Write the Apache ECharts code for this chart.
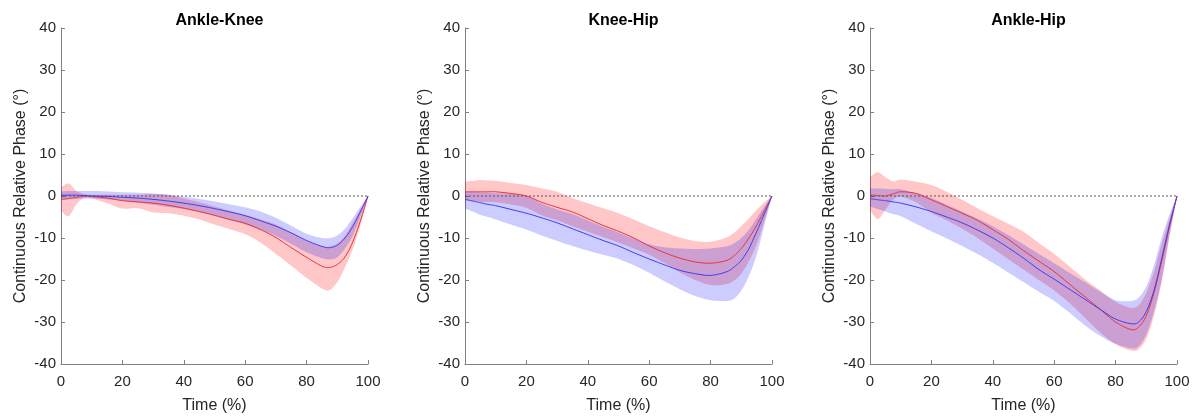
<!DOCTYPE html>
<html>
<head>
<meta charset="utf-8">
<script src="https://cdn.jsdelivr.net/npm/echarts@6/dist/echarts.min.js"></script>
<style>html,body{margin:0;padding:0;background:#fff;}#c{width:1203px;height:419px;}</style>
</head>
<body>
<div id="c"></div>
<script>
// Time points (%)
var time = [0,2.5,5,7.5,10,15,20,25,30,35,40,45,50,55,60,65,70,75,80,85,87.5,90,92.5,95,97.5,100];
var panelTitles = ['Ankle-Knee','Knee-Hip','Ankle-Hip'];
var xTicks = [0,20,40,60,80,100];
var yTicks = [-40,-30,-20,-10,0,10,20,30,40];

// Ankle-Knee
var akBlueMean  = [0.2,0.2,0.2,0.1,0,-0.1,-0.3,-0.5,-0.8,-1.2,-1.7,-2.3,-3.0,-3.8,-4.7,-5.9,-7.2,-8.8,-10.6,-12.0,-12.3,-11.7,-10.0,-7.3,-3.8,0];
var akBlueUpper = [1.1,1.2,1.2,1.2,1.2,1.1,0.9,0.8,0.6,0.3,-0.2,-0.7,-1.3,-2.0,-2.7,-3.7,-5.2,-7.1,-9.0,-10.0,-10.0,-9.4,-7.8,-5.3,-2.6,0];
var akBlueLower = [-0.8,-0.8,-0.7,-0.6,-0.6,-0.8,-1.1,-1.6,-2.1,-2.6,-3.1,-3.8,-4.7,-5.7,-6.8,-8.1,-9.5,-11.4,-13.4,-14.8,-15.1,-14.6,-12.5,-9.5,-5.0,0];
var akRedMean   = [-0.8,-0.6,-0.3,0,-0.1,-0.5,-1.1,-1.4,-1.7,-2.2,-2.9,-3.7,-4.6,-5.6,-6.5,-8.0,-9.9,-12.3,-14.6,-16.7,-17.0,-16.3,-14.5,-11.0,-6.0,0];
var akRedUpper  = [2.0,3.0,1.2,0.5,0.3,0.3,0.3,0.3,0.5,0.3,-0.6,-1.5,-2.5,-3.5,-4.5,-5.6,-6.8,-8.7,-10.7,-12.0,-12.0,-11.3,-9.5,-6.4,-3.2,0];
var akRedLower  = [-3.5,-4.8,-2.0,-0.5,-0.6,-1.7,-3.0,-2.9,-3.9,-4.1,-4.7,-5.6,-6.8,-7.9,-9.1,-11.1,-13.8,-16.6,-19.5,-22.0,-22.4,-20.5,-17.0,-12.7,-7.0,0];

// Knee-Hip
var khBlueMean  = [-0.8,-1.2,-1.6,-2.0,-2.3,-3.2,-4.1,-5.2,-6.4,-7.8,-9.2,-10.6,-11.9,-13.5,-15.0,-16.4,-17.7,-18.5,-18.9,-18.1,-17.0,-15.3,-12.5,-8.5,-4.3,0];
var khBlueUpper = [1.0,1.0,0.9,0.8,0.7,0.5,0.0,-1.8,-3.2,-4.3,-5.8,-7.3,-8.7,-10.2,-11.5,-12.2,-12.5,-12.6,-12.5,-12.0,-11.3,-10.0,-8.0,-5.3,-2.5,0];
var khBlueLower = [-3.0,-3.7,-4.5,-5.0,-5.6,-6.8,-8.0,-9.4,-10.7,-11.9,-13.0,-14.0,-15.0,-16.5,-18.3,-20.3,-22.2,-23.8,-24.8,-25.0,-24.5,-22.5,-19.0,-14.0,-7.0,0];
var khRedMean   = [1.0,1.0,1.0,1.0,1.0,0.6,0,-1.5,-2.7,-3.8,-5.4,-7.0,-8.4,-10.0,-11.9,-13.5,-14.8,-15.7,-16.0,-15.4,-14.3,-12.5,-10.0,-7.0,-3.5,0];
var khRedUpper  = [3.4,3.6,3.8,3.7,3.6,3.1,2.6,1.8,1.0,-0.5,-1.7,-2.9,-4.1,-5.6,-7.2,-8.6,-9.9,-10.7,-10.9,-9.9,-8.8,-7.2,-5.3,-3.3,-1.5,0];
var khRedLower  = [-1.0,-1.2,-1.4,-1.4,-1.5,-2.0,-2.8,-4.6,-5.8,-7.2,-8.5,-9.8,-11.1,-12.5,-14.0,-16.0,-18.2,-20.0,-21.2,-21.0,-20.2,-18.5,-15.5,-11.5,-6.0,0];

// Ankle-Hip
var ahBlueMean  = [-0.6,-0.9,-1.1,-1.4,-1.7,-2.6,-3.7,-5.0,-6.4,-8.1,-10.0,-12.3,-14.8,-17.5,-19.8,-22.2,-24.6,-27.0,-29.3,-30.4,-30.0,-27.5,-22.5,-15.0,-7.0,0];
var ahBlueUpper = [1.8,1.8,1.7,1.6,1.6,0.6,-0.5,-2.1,-3.7,-5.4,-7.2,-9.3,-11.5,-13.8,-16.0,-18.3,-20.5,-22.8,-24.8,-25.0,-24.2,-21.5,-16.5,-10.0,-4.5,0];
var ahBlueLower = [-2.5,-3.1,-3.7,-4.3,-4.8,-6.6,-8.4,-10.1,-11.9,-13.8,-15.9,-18.2,-20.5,-22.8,-25.0,-27.8,-30.8,-33.3,-35.2,-36.3,-35.8,-33.0,-27.5,-20.0,-9.5,0];
var ahRedMean   = [0.3,0.1,0,0.5,1.0,0.6,-0.9,-2.5,-4.1,-5.8,-8.0,-10.3,-13.0,-15.5,-18.0,-21.0,-24.0,-27.0,-30.0,-31.8,-31.2,-28.5,-23.0,-15.5,-7.5,0];
var ahRedUpper  = [4.5,5.7,4.5,3.5,3.9,3.4,2.6,1.0,-0.9,-2.9,-4.8,-6.6,-8.5,-11.2,-13.8,-16.8,-19.8,-22.5,-25.2,-26.6,-26.0,-23.0,-18.0,-11.5,-5.5,0];
var ahRedLower  = [-3.3,-5.5,-3.3,-0.9,-0.2,-1.5,-4.0,-5.8,-7.8,-10.0,-12.5,-15.0,-17.5,-20.0,-22.5,-25.5,-29.0,-32.5,-35.3,-36.8,-36.5,-34.0,-28.5,-20.5,-10.0,0];

var panels = [
  {title: panelTitles[0], blue: [akBlueMean, akBlueUpper, akBlueLower], red: [akRedMean, akRedUpper, akRedLower], left: 61, right: 835},
  {title: panelTitles[1], blue: [khBlueMean, khBlueUpper, khBlueLower], red: [khRedMean, khRedUpper, khRedLower], left: 465, right: 431},
  {title: panelTitles[2], blue: [ahBlueMean, ahBlueUpper, ahBlueLower], red: [ahRedMean, ahRedUpper, ahRedLower], left: 870, right: 26}
];

var chart = echarts.init(document.getElementById('c'), null, {renderer: 'canvas'});
var FONT = '"Liberation Sans", Arial, Helvetica, sans-serif';
var textColor = '#262626';
var axisColor = '#808080';

// Catmull-Rom interpolation of pixel points (rendering only)
function smoothPts(pts){
  var out = [], n = pts.length, S = 8;
  for (var i = 0; i < n - 1; i++){
    var p0 = pts[Math.max(i-1,0)], p1 = pts[i], p2 = pts[i+1], p3 = pts[Math.min(i+2,n-1)];
    for (var s = 0; s < S; s++){
      var t = s / S, t2 = t*t, t3 = t2*t;
      var f = function(a,b,c,d){ return 0.5*((2*b) + (-a+c)*t + (2*a-5*b+4*c-d)*t2 + (-a+3*b-3*c+d)*t3); };
      out.push([f(p0[0],p1[0],p2[0],p3[0]), f(p0[1],p1[1],p2[1],p3[1])]);
    }
  }
  out.push(pts[n-1]);
  return out;
}

var grids = [], xAxes = [], yAxes = [], titles = [], series = [];
panels.forEach(function(p, k){
  grids.push({left: p.left, right: p.right, top: 28, bottom: 49, containLabel: false});
  var plotW = 1203 - p.left - p.right;
  titles.push({text: p.title, left: p.left + plotW/2, top: 8, textAlign: 'center',
    textStyle: {fontFamily: FONT, fontSize: 16, fontWeight: 'bold', color: '#000'}});
  xAxes.push({type: 'value', gridIndex: k, min: 0, max: 100, interval: 20,
    name: 'Time (%)', nameLocation: 'middle', nameGap: 34,
    nameTextStyle: {fontFamily: FONT, fontSize: 16, color: textColor},
    axisLine: {show: true, onZero: false, lineStyle: {color: axisColor, width: 1}},
    axisTick: {show: true, inside: true, length: 4, lineStyle: {color: axisColor}},
    axisLabel: {fontFamily: FONT, fontSize: 15, color: textColor, margin: 10},
    splitLine: {show: false}});
  yAxes.push({type: 'value', gridIndex: k, min: -40, max: 40, interval: 10,
    name: 'Continuous Relative Phase (°)', nameLocation: 'middle', nameGap: 32, nameRotate: 90,
    nameTextStyle: {fontFamily: FONT, fontSize: 16, color: textColor},
    axisLine: {show: true, onZero: false, lineStyle: {color: axisColor, width: 1}},
    axisTick: {show: true, inside: true, length: 4, lineStyle: {color: axisColor}},
    axisLabel: {fontFamily: FONT, fontSize: 15, color: textColor, margin: 5},
    splitLine: {show: false}});

  var groups = [
    {name: 'red', d: p.red, fill: 'rgba(255,0,0,0.22)', line: '#e8303a'},
    {name: 'blue', d: p.blue, fill: 'rgba(0,0,255,0.2)', line: '#3a3af0'}
  ];
  groups.forEach(function(g){
    var up = g.d[1], lo = g.d[2];
    series.push({type: 'custom', xAxisIndex: k, yAxisIndex: k, silent: true, z: 1,
      data: time.map(function(t,i){ return [t, lo[i], up[i]]; }),
      encode: {x: 0, y: [1,2]},
      renderItem: function(params, api){
        if (params.dataIndex !== 0) return null;
        var upPts = time.map(function(t,i){ return api.coord([t, up[i]]); });
        var loPts = time.map(function(t,i){ return api.coord([t, lo[i]]); });
        var poly = smoothPts(upPts).concat(smoothPts(loPts).reverse());
        return {type: 'polygon', shape: {points: poly}, style: {fill: g.fill, stroke: null}};
      }});
  });
  // zero reference line
  series.push({type: 'line', xAxisIndex: k, yAxisIndex: k, data: [[0,0],[100,0]],
    symbol: 'none', silent: true, lineStyle: {color: '#555', width: 1, type: [2,2]}, z: 3});
  groups.forEach(function(g){
    var m = g.d[0];
    series.push({type: 'custom', xAxisIndex: k, yAxisIndex: k, silent: true, z: 4,
      data: time.map(function(t,i){ return [t, m[i]]; }),
      encode: {x: 0, y: 1},
      renderItem: function(params, api){
        if (params.dataIndex !== 0) return null;
        var pts = time.map(function(t,i){ return api.coord([t, m[i]]); });
        return {type: 'polyline', shape: {points: smoothPts(pts)}, style: {stroke: g.line, lineWidth: 1, fill: null}};
      }});
  });
});

chart.setOption({
  animation: false,
  backgroundColor: '#fff',
  title: titles,
  grid: grids,
  xAxis: xAxes,
  yAxis: yAxes,
  series: series
});
</script>
</body>
</html>
